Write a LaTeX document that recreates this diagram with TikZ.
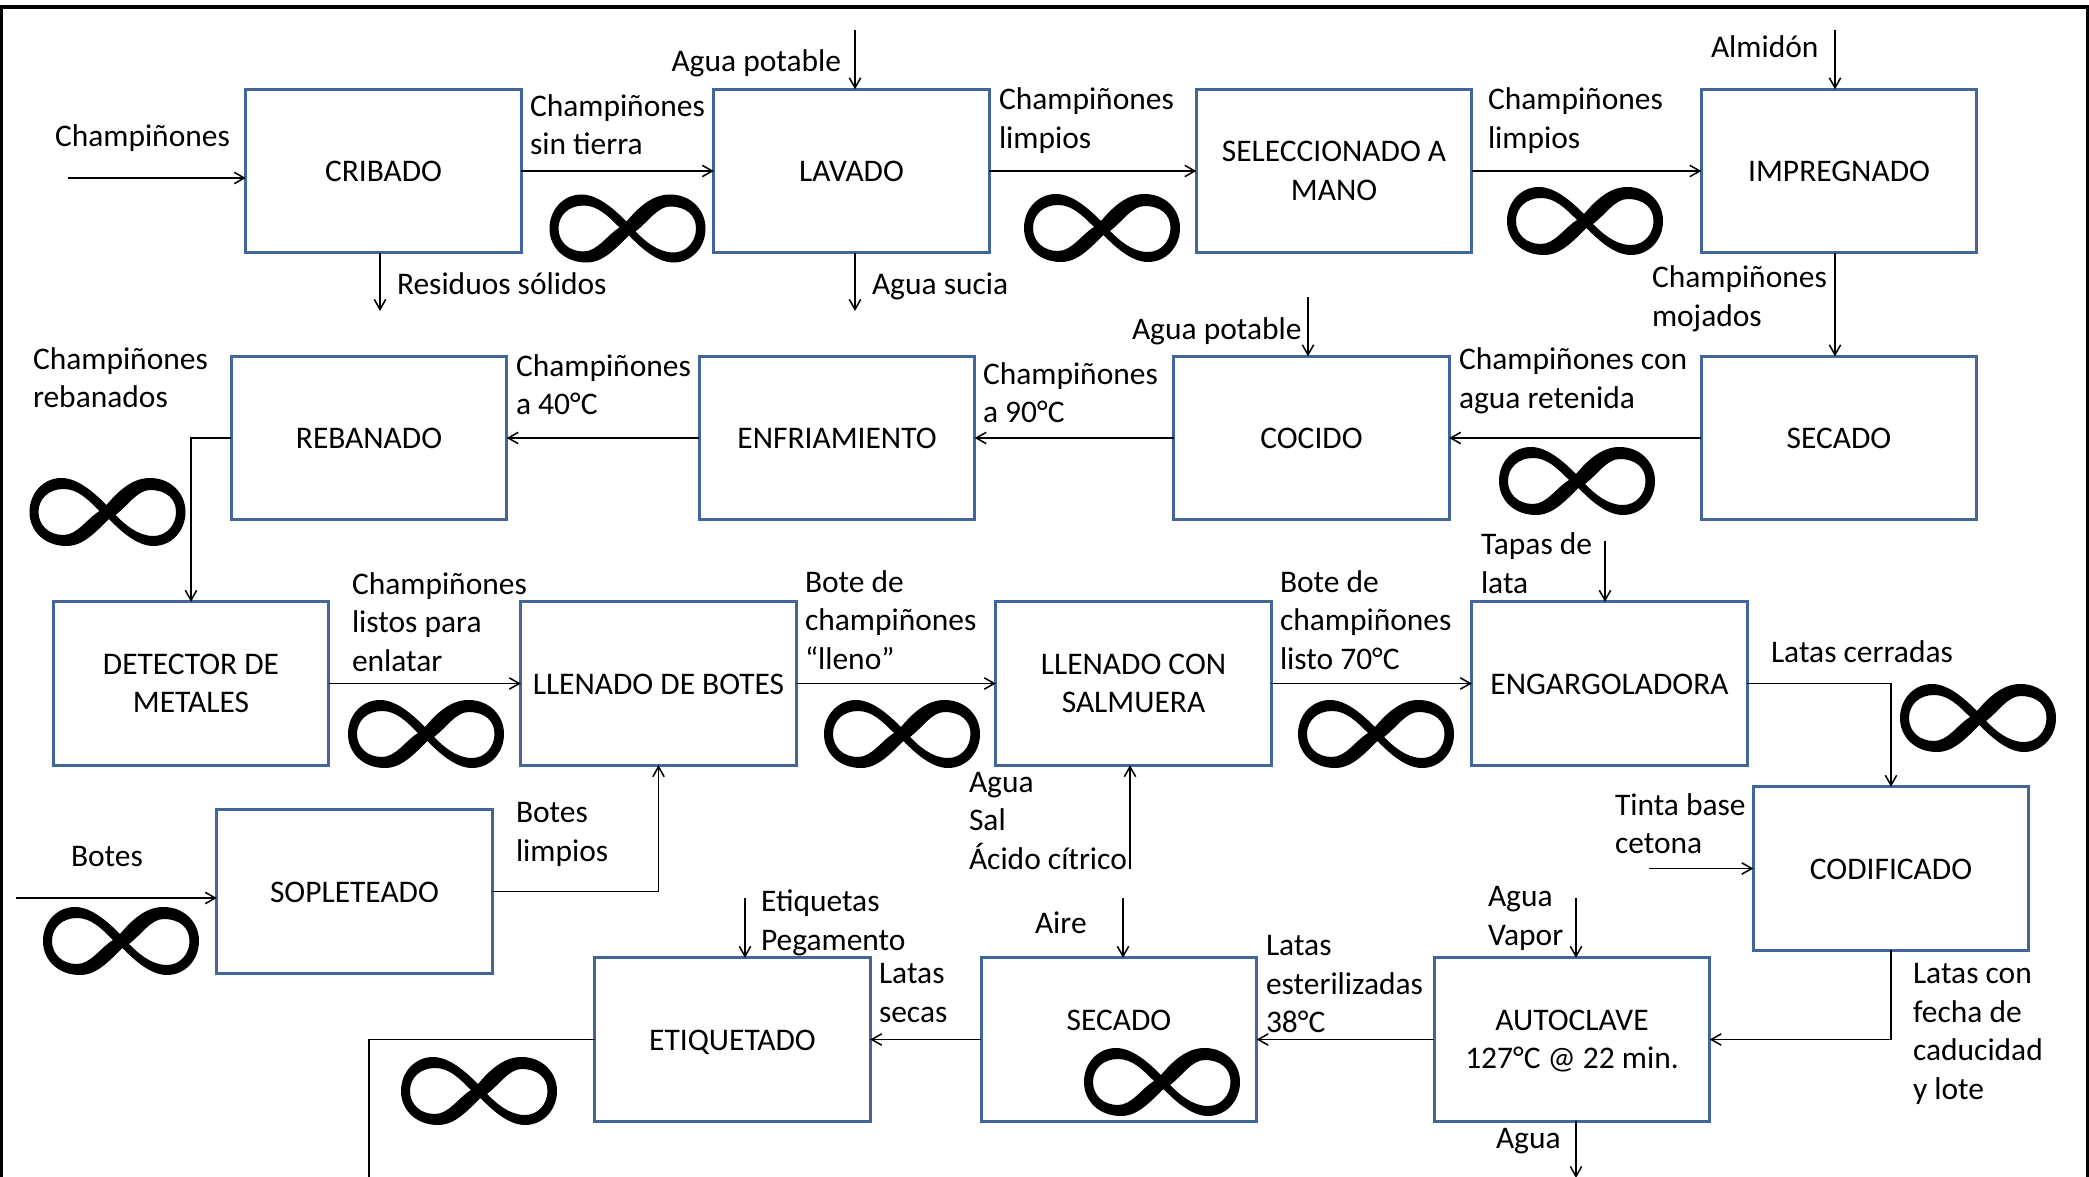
\documentclass[tikz,border=0pt]{standalone}
\usepackage{fontspec}
\setmainfont{Carlito}
\usetikzlibrary{arrows.meta}
\definecolor{boxblue}{HTML}{41679A}
\tikzset{
  proc/.style={draw=boxblue,line width=2.1pt,fill=white,minimum width=206.5pt,minimum height=122.5pt,inner sep=0pt,outer sep=0pt,align=center,font=\fontsize{23.6}{28.9}\selectfont,execute at begin node=\rule{0pt}{16.5pt}},
  lab/.style={anchor=north west,inner sep=0pt,outer sep=0pt,align=left,font=\fontsize{23.6}{28.9}\selectfont,execute at begin node=\strut},
  flow/.style={-{Straight Barb[length=7.5pt,width=8.5pt]},line width=1.15pt,black},
  plain/.style={line width=1.15pt,black},
  frame/.style={draw=black,line width=3pt},
  inf/.pic={
    \fill[black,even odd rule]
      (-1,-7) .. controls (10,-20) and (24,-34) .. (42.5,-34)
      .. controls (63,-34) and (78,-19) .. (78,0)
      .. controls (78,19) and (64,34) .. (46,34)
      .. controls (30,34) and (14,20) .. (1.5,7)
      .. controls (-12,20) and (-24,34) .. (-41,34)
      .. controls (-63,34) and (-78,19) .. (-78,0)
      .. controls (-78,-19) and (-64,-34) .. (-46,-34)
      .. controls (-30,-34) and (-14,-20) .. (-1,-7) -- cycle
      (-8,-1) .. controls (-20,-13) and (-30,-23) .. (-44,-23)
      .. controls (-59,-23) and (-69,-13) .. (-69,0)
      .. controls (-69,13) and (-59,23) .. (-44,23)
      .. controls (-30,23) and (-20,6) .. (-8,-1) -- cycle
      (8,3) .. controls (17,12) and (30,24) .. (46,24)
      .. controls (59,24) and (68.5,13) .. (68.5,0)
      .. controls (68.5,-13) and (59,-22) .. (42.5,-22)
      .. controls (30,-22) and (20,-6) .. (8,3) -- cycle;
  }
}
\begin{document}
\begin{tikzpicture}[x=0.75pt,y=-0.75pt]
\useasboundingbox (0,0) rectangle (2089,1177);
\clip (0,0) rectangle (2089,1177);
\fill[white] (0,0) rectangle (2089,1177);
\draw[frame] (1,7) rectangle (2088,1190);

% boxes
\node[proc] (cri) at (383.5,171) {CRIBADO};
\node[proc] (lav) at (851.5,171) {LAVADO};
\node[proc] (sel) at (1334,171) {SELECCIONADO A\\MANO};
\node[proc] (imp) at (1839,171) {IMPREGNADO};
\node[proc] (reb) at (369,438) {REBANADO};
\node[proc] (enf) at (837,438) {ENFRIAMIENTO};
\node[proc] (coc) at (1311.5,438) {COCIDO};
\node[proc] (sec) at (1839,438) {SECADO};
\node[proc] (det) at (191,683.5) {DETECTOR DE\\METALES};
\node[proc] (llb) at (658.5,683.5) {LLENADO DE BOTES};
\node[proc] (lls) at (1133.5,683.5) {LLENADO CON\\SALMUERA};
\node[proc] (eng) at (1609.5,683.5) {ENGARGOLADORA};
\node[proc] (sop) at (354.5,891.5) {SOPLETEADO};
\node[proc] (cod) at (1891,868.5) {CODIFICADO};
\node[proc] (etq) at (732.5,1039.5) {\smash{ETIQUETADO}};
\node[proc] (sea) at (1119,1039.5) {SECADO\\\mbox{}};
\node[proc] (aut) at (1572,1039.5) {AUTOCLAVE\\\smash{127°C @ 22 min.}};

% free ends
\coordinate (inC) at (68,178);
\coordinate (outR) at (380,311);
\coordinate (inW) at (855,30);
\coordinate (outS) at (855,311);
\coordinate (inA) at (1835,30);
\coordinate (inC2) at (1308,297);
\coordinate (inT) at (1605,541);
\coordinate (inTi) at (1649,868.5);
\coordinate (inB) at (16,898);
\coordinate (inS) at (1130,869);
\coordinate (inE) at (745,898);
\coordinate (inAi) at (1123,898);
\coordinate (inV) at (1576,898);
\coordinate (outA) at (1576,1178);
\coordinate (outE) at (369,1180);
\coordinate (secIn) at (1835,356);

% connectors
\draw[flow] (inC) -- (inC -| cri.west);
\draw[flow] (cri.east) -- (lav.west);
\draw[flow] (lav.east) -- (sel.west);
\draw[flow] (sel.east) -- (imp.west);
\draw[flow] (outR |- cri.south) -- (outR);
\draw[flow] (inW) -- (inW |- lav.north);
\draw[flow] (outS |- lav.south) -- (outS);
\draw[flow] (inA) -- (inA |- imp.north);
\draw[flow] (secIn |- imp.south) -- (secIn |- sec.north);
\draw[flow] (sec.west) -- (coc.east);
\draw[flow] (inC2) -- (inC2 |- coc.north);
\draw[flow] (coc.west) -- (enf.east);
\draw[flow] (enf.west) -- (reb.east);
\draw[flow] (reb.west) -| (det.north);
\draw[flow] (det.east) -- (llb.west);
\draw[flow] (llb.east) -- (lls.west);
\draw[flow] (lls.east) -- (eng.west);
\draw[flow] (inT) -- (inT |- eng.north);
\draw[flow] (eng.east) -| (cod.north);
\draw[flow] (inTi) -- (cod.west);
\draw[flow] (inB) -- (inB -| sop.west);
\draw[flow] (sop.east) -| (llb.south);
\draw[flow] (inS) -- (inS |- lls.south);
\draw[flow] (cod.south) |- (aut.east);
\draw[flow] (aut.west) -- (sea.east);
\draw[flow] (sea.west) -- (etq.east);
\draw[flow] (inV) -- (inV |- aut.north);
\draw[flow] (outA |- aut.south) -- (outA);
\draw[flow] (inAi) -- (inAi |- sea.north);
\draw[flow] (inE) -- (inE |- etq.north);
\draw[plain] (etq.west) -| (outE);

% labels
\node[lab] (l1) at (55,119.8) {Champiñones};
\node[lab] (l2) at (530,94.5) {Champiñones\\sin tierra};
\node[lab] (l3) at (671.5,45) {Agua potable};
\node[lab] (l4) at (999,88) {Champiñones\\limpios};
\node[lab] (l5) at (1488,88) {Champiñones\\limpios};
\node[lab] (l6) at (1711,31) {Almidón};
\node[lab] (l7) at (397,268) {Residuos sólidos};
\node[lab] (l8) at (872,268) {Agua sucia};
\node[lab] (l9) at (1652,266) {Champiñones\\mojados};
\node[lab] (l10) at (1132,312.5) {Agua potable};
\node[lab] (l11) at (1459,348) {Champiñones con\\agua retenida};
\node[lab] (l12) at (983,362.5) {Champiñones\\a 90°C};
\node[lab] (l13) at (516,354.5) {Champiñones\\a 40°C};
\node[lab] (l14) at (33,347.5) {Champiñones\\rebanados};
\node[lab] (l15) at (352,572.5) {Champiñones\\listos para\\enlatar};
\node[lab] (l16) at (805,570.5) {Bote de\\champiñones\\“lleno”};
\node[lab] (l17) at (1280,570.5) {Bote de\\champiñones\\listo 70°C};
\node[lab] (l18) at (1481,533) {Tapas de\\lata};
\node[lab] (l19) at (1771,635.3) {Latas cerradas};
\node[lab] (l20) at (1615,793.5) {Tinta base\\cetona};
\node[lab] (l21) at (516,802.5) {Botes\\limpios};
\node[lab] (l22) at (71,839.3) {Botes};
\node[lab] (l23) at (969,772) {Agua\\Sal\\Ácido cítrico};
\node[lab] (l24) at (761,890) {Etiquetas\\Pegamento};
\node[lab] (l25) at (1035,906.3) {Aire};
\node[lab] (l26) at (1266,935.5) {Latas\\esterilizadas\\38°C};
\node[lab] (l27) at (1488,886.5) {Agua\\Vapor};
\node[lab] (l28) at (879,963.5) {Latas\\secas};
\node[lab] (l29) at (1913,963.5) {Latas con\\fecha de\\caducidad\\y lote};
\node[lab] (l30) at (1496,1121.8) {Agua};

% infinity marks
\pic at (627.5,228.5) {inf};
\pic at (1102,228) {inf};
\pic at (1585,221) {inf};
\pic at (107.5,512) {inf};
\pic at (1577,481) {inf};
\pic at (1978,718) {inf};
\pic at (426,734) {inf};
\pic at (902,734) {inf};
\pic at (1376,734) {inf};
\pic at (121,941) {inf};
\pic at (479,1091) {inf};
\pic at (1162,1082) {inf};
\end{tikzpicture}
\end{document}
